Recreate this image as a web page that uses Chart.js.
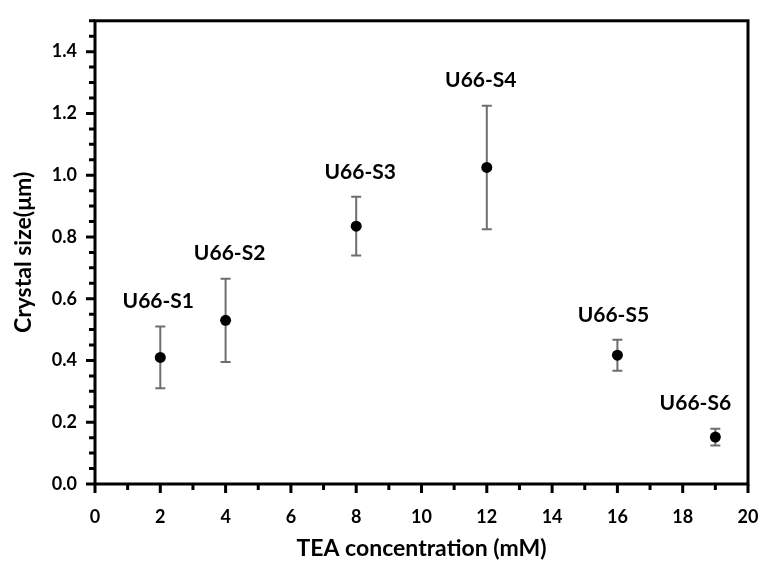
<!DOCTYPE html>
<html lang="en">
<head>
  <meta charset="UTF-8" />
  <title>Crystal size vs TEA concentration</title>
  <style>
    body { margin: 0; background: #fff; }
    #wrap { width: 760px; height: 562px; }
  </style>
</head>
<body>
  <div id="wrap"><canvas id="chart" width="760" height="562"></canvas></div>

  <script src="https://cdn.jsdelivr.net/npm/chart.js"></script>
  <script>
    // samples: TEA concentration (mM), crystal size (µm) and its error
    const tea = [2, 4, 8, 12, 16, 19];
    const size = [0.41, 0.53, 0.835, 1.025, 0.417, 0.152];
    const sizeErr = [0.1, 0.135, 0.095, 0.2, 0.05, 0.027];
    const sampleNames = ['U66-S1', 'U66-S2', 'U66-S3', 'U66-S4', 'U66-S5', 'U66-S6'];

    const FONT = 'Lato, "Open Sans", sans-serif';
    // nudge of each sample name, in pixels
    const nameShift = [-2, 4, 4, -6, -4, -20];

    // error bars, boxed frame, minor ticks and sample names
    const decor = {
      id: 'decor',
      afterDatasetsDraw(chart) {
        const { ctx, chartArea: a, scales: { x, y } } = chart;
        ctx.save();
        // error bars
        ctx.strokeStyle = '#6e6e6e';
        ctx.lineWidth = 2;
        tea.forEach((t, i) => {
          const px = x.getPixelForValue(t);
          const top = y.getPixelForValue(size[i] + sizeErr[i]);
          const bot = y.getPixelForValue(size[i] - sizeErr[i]);
          ctx.beginPath();
          ctx.moveTo(px, top); ctx.lineTo(px, bot);
          ctx.moveTo(px - 5, top); ctx.lineTo(px + 5, top);
          ctx.moveTo(px - 5, bot); ctx.lineTo(px + 5, bot);
          ctx.stroke();
        });
        // points on top of bars
        ctx.fillStyle = '#000';
        tea.forEach((t, i) => {
          ctx.beginPath();
          ctx.arc(x.getPixelForValue(t), y.getPixelForValue(size[i]), 5.5, 0, Math.PI * 2);
          ctx.fill();
        });
        // ticks
        ctx.strokeStyle = '#000';
        ctx.lineWidth = 3;
        ctx.beginPath();
        for (let v = 0; v <= 20; v += 1) {
          const px = x.getPixelForValue(v);
          ctx.moveTo(px, a.bottom); ctx.lineTo(px, a.bottom + (v % 2 === 0 ? 9 : 6));
        }
        for (let k = 0; k <= 30; k++) {
          const py = y.getPixelForValue(k * 0.05);
          ctx.moveTo(a.left, py); ctx.lineTo(a.left - (k % 4 === 0 ? 9 : 6), py);
        }
        ctx.stroke();
        // frame
        ctx.lineWidth = 3;
        ctx.strokeRect(a.left, a.top, a.right - a.left, a.bottom - a.top);
        // sample names
        ctx.fillStyle = '#000';
        ctx.font = 'bold 21px ' + FONT;
        ctx.textAlign = 'center';
        ctx.textBaseline = 'middle';
        sampleNames.forEach((n, i) => {
          const px = x.getPixelForValue(tea[i]) + nameShift[i];
          const py = y.getPixelForValue(size[i] + sizeErr[i]) - 25;
          ctx.fillText(n, px, py);
        });
        ctx.restore();
      }
    };

    new Chart(document.getElementById('chart'), {
      type: 'scatter',
      data: {
        datasets: [{
          data: tea.map((t, i) => ({ x: t, y: size[i] })),
          pointRadius: 0,
          pointHoverRadius: 0,
          backgroundColor: '#000'
        }]
      },
      options: {
        responsive: false,
        animation: false,
        layout: { padding: { left: 6, right: 12, top: 16, bottom: 0 } },
        plugins: { legend: { display: false }, tooltip: { enabled: false } },
        scales: {
          x: {
            min: 0, max: 20,
            grid: { display: false },
            border: { display: false },
            ticks: { stepSize: 2, padding: 14, color: '#000', font: { family: FONT, size: 18, weight: 'bold' } },
            title: { display: true, text: 'TEA concentration (mM)', color: '#000', padding: { top: 0, bottom: 0 }, font: { family: FONT, size: 23, weight: 'bold' } },
            afterFit(s) { s.height = 78; s.paddingLeft = 0; s.paddingRight = 0; }
          },
          y: {
            min: 0, max: 1.5,
            grid: { display: false },
            border: { display: false },
            ticks: { stepSize: 0.2, includeBounds: false, padding: 10, color: '#000',
              font: { family: FONT, size: 18, weight: 'bold' },
              callback: v => v.toFixed(1) },
            title: { display: true, text: 'Crystal size(μm)', color: '#000', font: { family: FONT, size: 23, weight: 'bold' } },
            afterFit(s) { s.width = 89; }
          }
        }
      },
      plugins: [decor]
    });
  </script>
</body>
</html>
